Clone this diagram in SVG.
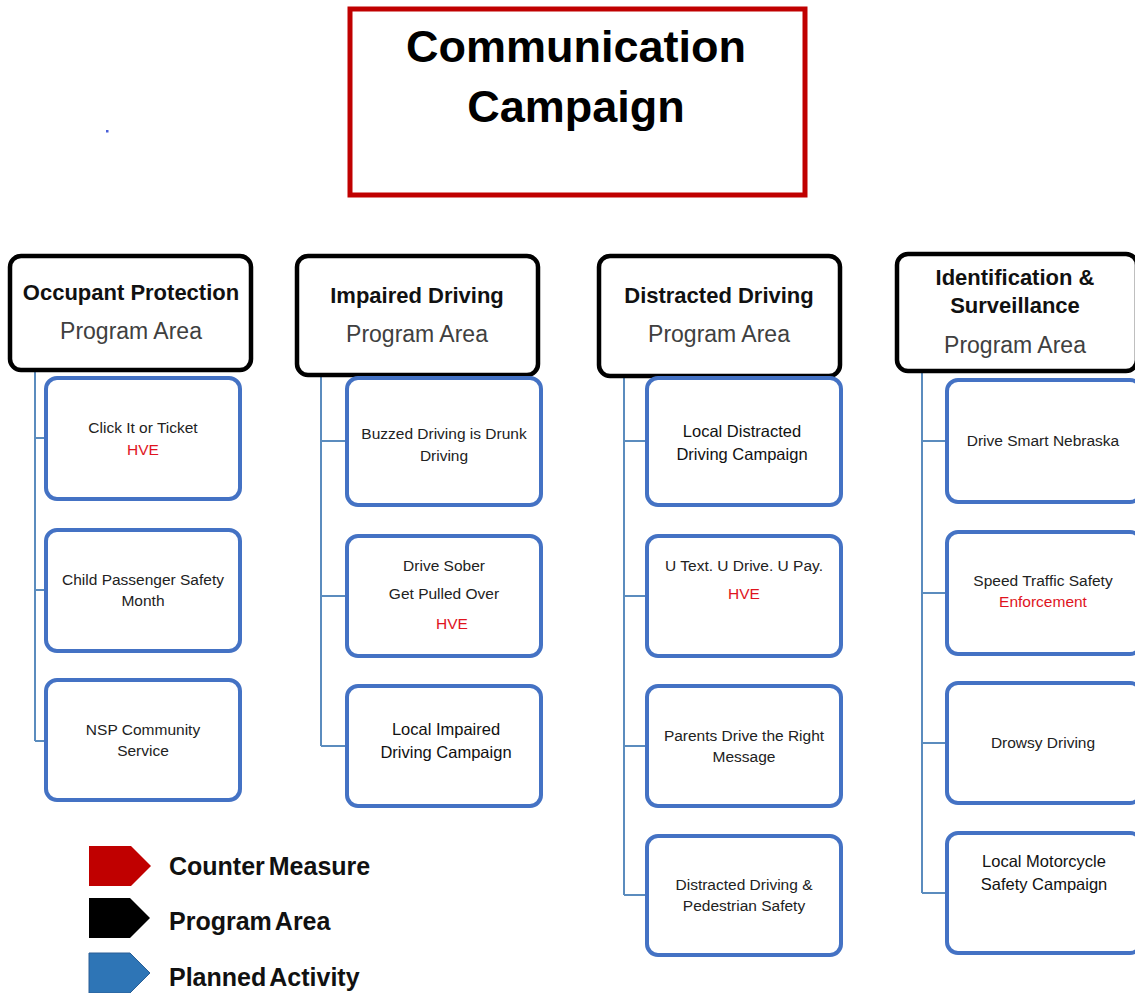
<svg xmlns="http://www.w3.org/2000/svg" width="1135" height="993" viewBox="0 0 1135 993">
<defs>
<style>
.pa{fill:#fff;stroke:#000;stroke-width:4.5}
.act{fill:#fff;stroke:#4472c4;stroke-width:4}
.con{fill:none;stroke:#5b8cbe;stroke-width:2}
.t{font-family:"Liberation Sans",Arial,sans-serif;text-anchor:middle}
.pt{font-weight:bold;font-size:22px;fill:#111}
.ps{font-size:23px;fill:#404040}
.at{font-size:15.5px;fill:#222}
.aa{font-size:16.5px;fill:#111}
.red{fill:#e0141e}
.lg{font-family:"Liberation Sans",Arial,sans-serif;font-weight:bold;font-size:25px;fill:#111;word-spacing:-3px}
</style>
</defs>
<rect width="1135" height="993" fill="#fff"/>
<g id="title">
<rect x="350" y="9" width="455" height="186" fill="#fff" stroke="#c00000" stroke-width="5"/>
<text class="t" x="576" y="62" font-size="45" font-weight="bold" fill="#000">Communication</text>
<text class="t" x="576" y="122" font-size="45" font-weight="bold" fill="#000">Campaign</text>
</g>
<rect x="106" y="130" width="2.5" height="2.5" fill="#4a5fd8"/>
<g id="connectors">
<path class="con" d="M35 370V741M35 438H46M35 590H46M35 741H46"/>
<path class="con" d="M321 375V746M321 441H347M321 596H347M321 746H347"/>
<path class="con" d="M624 376V895M624 441H647M624 596H647M624 746H647M624 895H647"/>
<path class="con" d="M922 371V893M922 441H947M922 593H947M922 743H947M922 893H947"/>
</g>
<g id="pa-occupant">
<rect class="pa" x="10" y="256" width="241" height="114" rx="11"/>
<text class="t pt" x="131" y="300">Occupant Protection</text>
<text class="t ps" x="131" y="339">Program Area</text>
</g>
<g id="pa-impaired">
<rect class="pa" x="297" y="256" width="241" height="119" rx="11"/>
<text class="t pt" x="417" y="303">Impaired Driving</text>
<text class="t ps" x="417" y="342">Program Area</text>
</g>
<g id="pa-distracted">
<rect class="pa" x="599" y="256" width="241" height="120" rx="11"/>
<text class="t pt" x="719" y="303">Distracted Driving</text>
<text class="t ps" x="719" y="342">Program Area</text>
</g>
<g id="pa-identification">
<rect class="pa" x="897" y="254" width="240" height="117" rx="11"/>
<text class="t pt" x="1015" y="285">Identification &amp;</text>
<text class="t pt" x="1015" y="313">Surveillance</text>
<text class="t ps" x="1015" y="353">Program Area</text>
</g>
<g id="a-click">
<rect class="act" x="46" y="378" width="194" height="121" rx="11"/>
<text class="t at" x="143" y="433">Click It or Ticket</text>
<text class="t at red" x="143" y="455">HVE</text>
</g>
<g id="a-child">
<rect class="act" x="46" y="530" width="194" height="121" rx="11"/>
<text class="t at" x="143" y="585">Child Passenger Safety</text>
<text class="t at" x="143" y="606">Month</text>
</g>
<g id="a-nsp">
<rect class="act" x="46" y="680" width="194" height="120" rx="11"/>
<text class="t at" x="143" y="735">NSP Community</text>
<text class="t at" x="143" y="756">Service</text>
</g>
<g id="a-buzzed">
<rect class="act" x="347" y="378" width="194" height="127" rx="11"/>
<text class="t at" x="444" y="439">Buzzed Driving is Drunk</text>
<text class="t at" x="444" y="461">Driving</text>
</g>
<g id="a-sober">
<rect class="act" x="347" y="536" width="194" height="120" rx="11"/>
<text class="t at" x="444" y="571">Drive Sober</text>
<text class="t at" x="444" y="599">Get Pulled Over</text>
<text class="t at red" x="452" y="629">HVE</text>
</g>
<g id="a-localimpaired">
<rect class="act" x="347" y="686" width="194" height="120" rx="11"/>
<text class="t aa" x="446" y="735">Local Impaired</text>
<text class="t aa" x="446" y="758">Driving Campaign</text>
</g>
<g id="a-localdistracted">
<rect class="act" x="647" y="378" width="194" height="127" rx="11"/>
<text class="t aa" x="742" y="437">Local Distracted</text>
<text class="t aa" x="742" y="460">Driving Campaign</text>
</g>
<g id="a-utext">
<rect class="act" x="647" y="536" width="194" height="120" rx="11"/>
<text class="t at" x="744" y="571">U Text. U Drive. U Pay.</text>
<text class="t at red" x="744" y="599">HVE</text>
</g>
<g id="a-parents">
<rect class="act" x="647" y="686" width="194" height="120" rx="11"/>
<text class="t at" x="744" y="741">Parents Drive the Right</text>
<text class="t at" x="744" y="762">Message</text>
</g>
<g id="a-pedestrian">
<rect class="act" x="647" y="836" width="194" height="119" rx="11"/>
<text class="t at" x="744" y="890">Distracted Driving &amp;</text>
<text class="t at" x="744" y="911">Pedestrian Safety</text>
</g>
<g id="a-smart">
<rect class="act" x="947" y="380" width="194" height="122" rx="11"/>
<text class="t at" x="1043" y="446">Drive Smart Nebraska</text>
</g>
<g id="a-speed">
<rect class="act" x="947" y="532" width="194" height="122" rx="11"/>
<text class="t at" x="1043" y="586">Speed Traffic Safety</text>
<text class="t at red" x="1043" y="607">Enforcement</text>
</g>
<g id="a-drowsy">
<rect class="act" x="947" y="683" width="194" height="120" rx="11"/>
<text class="t at" x="1043" y="748">Drowsy Driving</text>
</g>
<g id="a-motorcycle">
<rect class="act" x="947" y="833" width="194" height="120" rx="11"/>
<text class="t aa" x="1044" y="867">Local Motorcycle</text>
<text class="t aa" x="1044" y="890">Safety Campaign</text>
</g>
<g id="legend">
<polygon points="89,846 131,846 151,866 131,886 89,886" fill="#c00000"/>
<polygon points="89,898 130,898 150,918 130,938 89,938" fill="#000"/>
<polygon points="89,953 130,953 150,973 130,993 89,993" fill="#2e75b6" stroke="#2a5f96" stroke-width="1"/>
<text class="lg" x="169" y="875">Counter Measure</text>
<text class="lg" x="169" y="930">Program Area</text>
<text class="lg" x="169" y="986">Planned Activity</text>
</g>
</svg>
